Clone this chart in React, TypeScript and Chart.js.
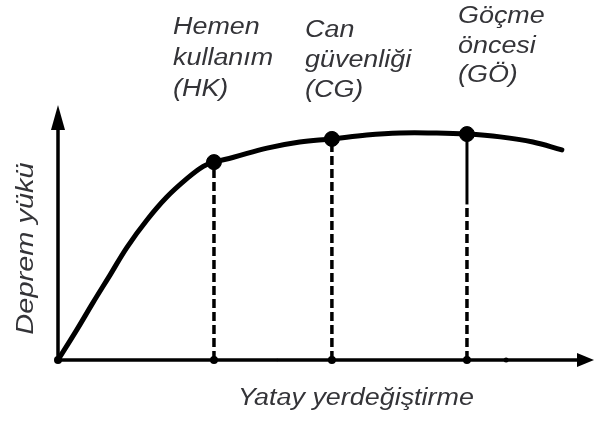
import React, { useEffect, useRef } from "react";
import { Chart, registerables } from "chart.js";

Chart.register(...registerables);

// Capacity (pushover) curve: horizontal displacement vs. seismic load
const curveX = [0, 3.5, 6.5, 9.7, 12.9, 16.6, 20.3, 24.1, 27.1, 29.1, 32.6, 39.0, 45.1, 51.1, 57.6, 63.8, 70.0, 76.3, 82.5, 88.6, 94.0];
const curveY = [0, 11.8, 22.4, 33.3, 44.3, 54.9, 63.9, 71.2, 75.9, 77.6, 79.4, 83.1, 85.5, 86.7, 88.2, 89.0, 89.0, 88.6, 87.5, 85.5, 82.4];

// Performance levels on the curve
const stageX = [29.1, 51.1, 76.3];
const stageY = [77.6, 86.7, 88.6];
const stageLabels = [
  ["Hemen", "kullanım", "(HK)"],
  ["Can", "güvenliği", "(CG)"],
  ["Göçme", "öncesi", "(GÖ)"],
];
// Göçme öncesi guide is drawn solid above this load, dashed below
const collapseSolidFrom = 61;

// Small marks along the displacement axis
const axisMarkX = [0, 29.1, 51.1, 76.3, 83.6, 40.9];

const xMax = 100;
const yMax = 100;
const xTitle = "Yatay yerdeğiştirme";
const yTitle = "Deprem yükü";

const FONT = "italic 23px 'Liberation Sans', Arial, sans-serif";
const TEXT_COLOR = "#343438";

const pts = (xs: number[], ys: number[]) => xs.map((x, i) => ({ x, y: ys[i] }));

const axesPlugin = {
  id: "arrowAxes",
  beforeDatasetsDraw(chart: any) {
    const { ctx, scales } = chart;
    const x0 = scales.x.getPixelForValue(0);
    const y0 = scales.y.getPixelForValue(0);
    const xEnd = scales.x.getPixelForValue(xMax);
    const yEnd = scales.y.getPixelForValue(yMax);
    ctx.save();
    ctx.strokeStyle = "#000";
    ctx.fillStyle = "#000";
    ctx.lineWidth = 3.5;
    ctx.beginPath();
    ctx.moveTo(x0, y0);
    ctx.lineTo(xEnd - 10, y0);
    ctx.moveTo(x0, y0);
    ctx.lineTo(x0, yEnd + 14);
    ctx.stroke();
    // arrow heads
    ctx.beginPath();
    ctx.moveTo(xEnd, y0);
    ctx.lineTo(xEnd - 17, y0 - 7);
    ctx.lineTo(xEnd - 17, y0 + 7);
    ctx.closePath();
    ctx.fill();
    ctx.beginPath();
    ctx.moveTo(x0, yEnd);
    ctx.lineTo(x0 - 7, yEnd + 25);
    ctx.lineTo(x0 + 7, yEnd + 25);
    ctx.closePath();
    ctx.fill();
    ctx.restore();
  },
};

const labelPlugin = {
  id: "stageLabels",
  afterDraw(chart: any) {
    const { ctx } = chart;
    const stretch = 1.17;
    // left edge, first baseline, line spacing for each stage label
    const boxes = [
      [173, 34, 31],
      [305, 37, 30],
      [458, 23, 29.5],
    ];
    ctx.save();
    ctx.font = FONT;
    ctx.fillStyle = TEXT_COLOR;
    ctx.textBaseline = "alphabetic";
    ctx.textAlign = "left";
    stageLabels.forEach((lines, i) => {
      const [lx, ly, lh] = boxes[i];
      lines.forEach((line, j) => {
        ctx.save();
        ctx.translate(lx, ly + j * lh);
        ctx.scale(stretch, 1);
        ctx.fillText(line, 0, 0);
        ctx.restore();
      });
    });
    // axis titles
    ctx.textAlign = "center";
    ctx.save();
    ctx.translate(356, 405);
    ctx.scale(stretch, 1);
    ctx.fillText(xTitle, 0, 0);
    ctx.restore();
    ctx.save();
    ctx.translate(33, 248.5);
    ctx.rotate(-Math.PI / 2);
    ctx.scale(1.26, 1);
    ctx.fillText(yTitle, 0, 0);
    ctx.restore();
    ctx.restore();
  },
};

export default function App() {
  const ref = useRef<HTMLCanvasElement | null>(null);

  useEffect(() => {
    document.body.style.margin = "0";
    const canvas = ref.current;
    if (!canvas) return;

    const guides: any[] = stageX.map((x, i) => {
      const top = i === 2 ? collapseSolidFrom : stageY[i];
      return {
        type: "line",
        data: [
          { x, y: 0 },
          { x, y: top },
        ],
        borderColor: "#000",
        borderWidth: 3.5,
        borderDash: [9, 4],
        pointRadius: 0,
        showLine: true,
        clip: false,
        order: 2,
      };
    });
    guides.push({
      type: "line",
      data: [
        { x: stageX[2], y: collapseSolidFrom },
        { x: stageX[2], y: stageY[2] },
      ],
      borderColor: "#000",
      borderWidth: 3,
      pointRadius: 0,
      showLine: true,
      clip: false,
      order: 2,
    });

    const chart = new Chart(canvas, {
      type: "scatter",
      data: {
        datasets: [
          {
            type: "scatter",
            data: pts(stageX, stageY),
            backgroundColor: "#000",
            borderColor: "#000",
            pointRadius: 7.5,
            clip: false,
            order: 0,
          } as any,
          {
            type: "line",
            data: pts(curveX, curveY),
            borderColor: "#000",
            borderWidth: 5,
            pointRadius: 0,
            tension: 0.4,
            borderCapStyle: "round",
            borderJoinStyle: "round",
            showLine: true,
            fill: false,
            clip: false,
            order: 1,
          } as any,
          ...guides,
          {
            type: "scatter",
            data: axisMarkX.map((x) => ({ x, y: 0 })),
            backgroundColor: "#000",
            borderColor: "#000",
            borderWidth: 0,
            pointRadius: [4, 4, 4, 4, 2.5, 1.2],
            clip: false,
            order: 3,
          } as any,
        ],
      },
      options: {
        responsive: false,
        animation: false,
        devicePixelRatio: 1,
        layout: { autoPadding: false, padding: { left: 58, right: 1, top: 105, bottom: 61 } },
        scales: {
          x: { type: "linear", min: 0, max: xMax, display: false },
          y: { type: "linear", min: 0, max: yMax, display: false },
        },
        plugins: {
          legend: { display: false },
          tooltip: { enabled: false },
        },
        events: [],
      } as any,
      plugins: [axesPlugin, labelPlugin],
    });

    return () => chart.destroy();
  }, []);

  return (
    <div style={{ position: "absolute", left: 0, top: 0, width: 595, height: 421, background: "#fff" }}>
      <canvas ref={ref} width={595} height={421} />
    </div>
  );
}
